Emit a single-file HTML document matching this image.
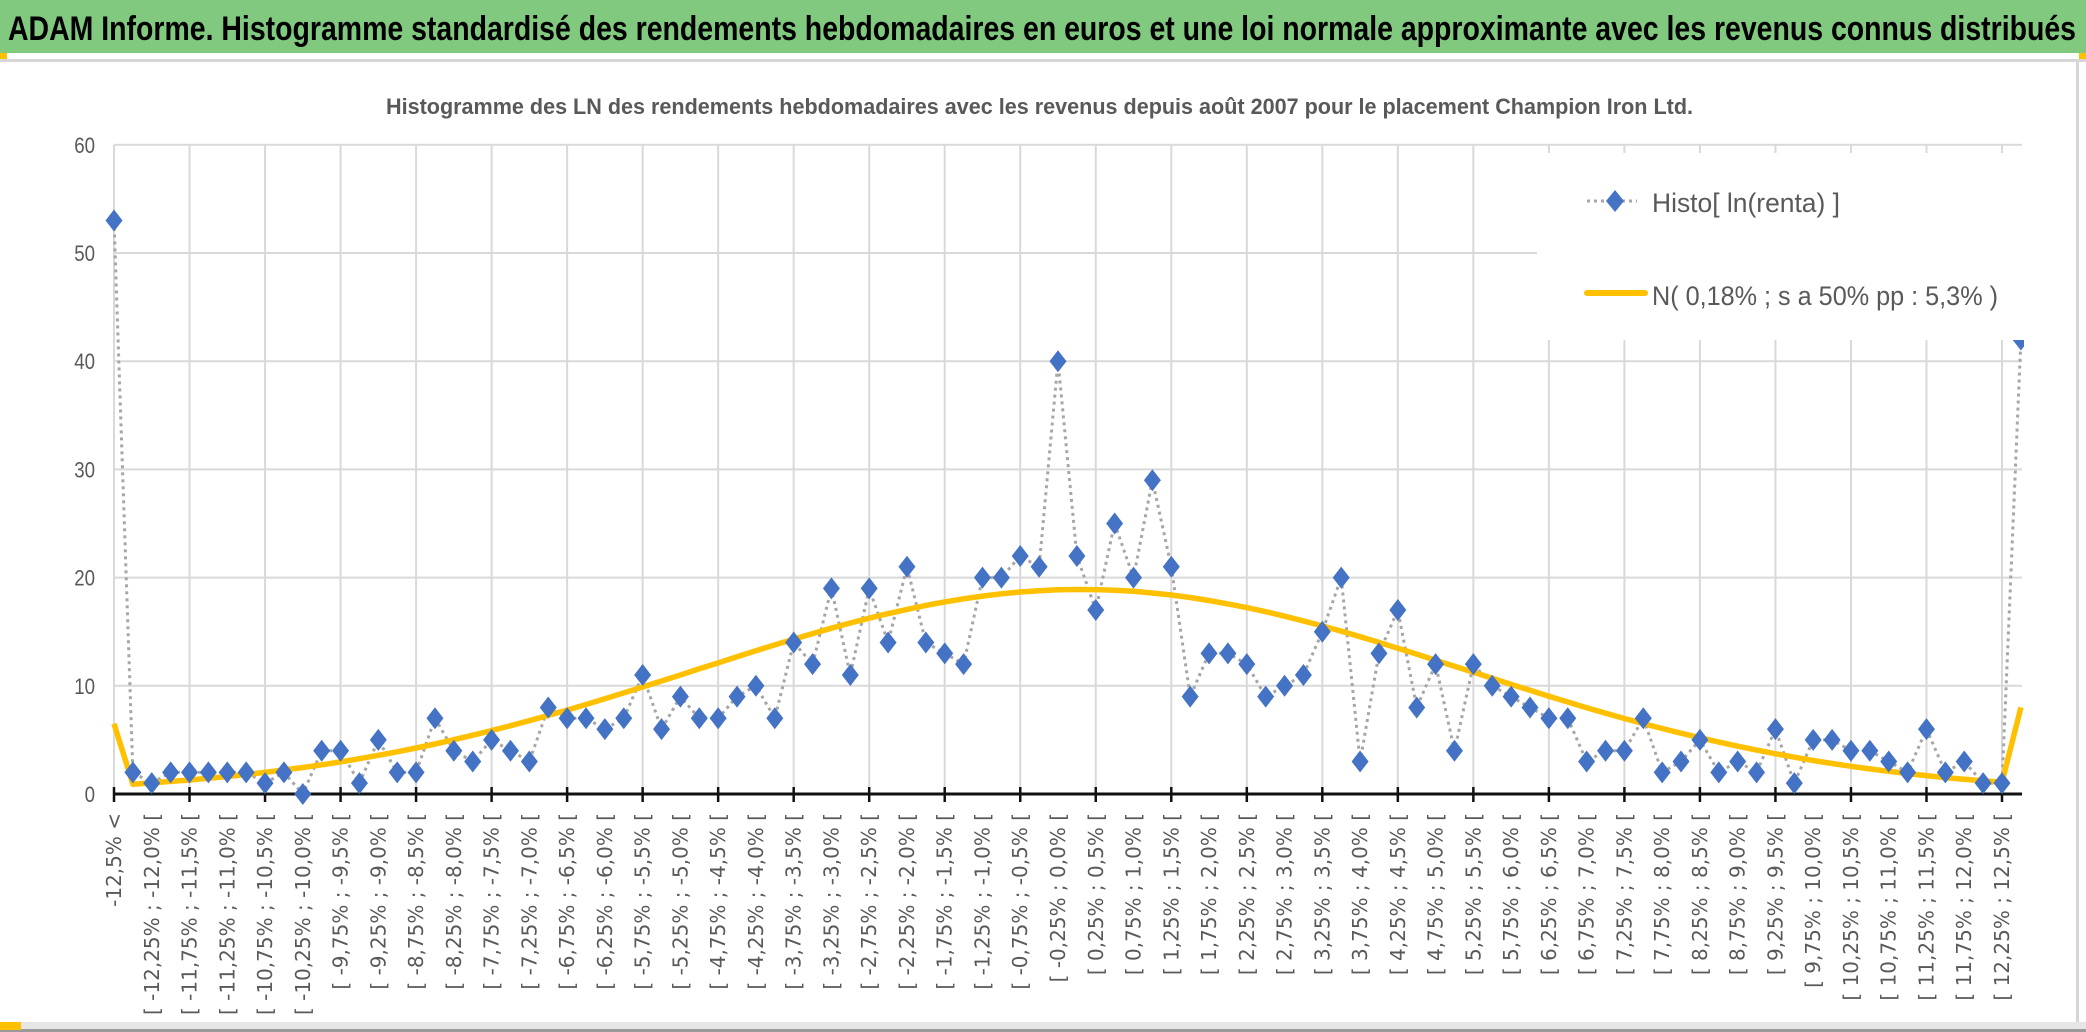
<!DOCTYPE html>
<html><head><meta charset="utf-8"><style>
html,body{margin:0;padding:0;background:#fff;}
svg{display:block;}
</style></head><body>
<svg id="chart" width="2086" height="1032" viewBox="0 0 2086 1032" xmlns="http://www.w3.org/2000/svg">
  <rect x="0" y="0" width="2086" height="1032" fill="#ffffff"/>
  <rect x="0" y="0" width="2086" height="53" fill="#80c97f"/>
  <text x="8" y="40" font-family="Liberation Sans, sans-serif" font-weight="bold" font-size="34" fill="#000" textLength="2068" lengthAdjust="spacingAndGlyphs">ADAM Informe. Histogramme standardisé des rendements hebdomadaires en euros et une loi normale approximante avec les revenus connus distribués</text>
  <rect x="0" y="53" width="7" height="7" fill="#ffc000"/>
  <rect x="2079" y="53" width="7" height="7" fill="#ffc000"/>
  <rect x="0" y="59" width="2086" height="3" fill="#d6d6d6"/>
  <rect x="2076" y="60" width="3" height="965" fill="#d6d6d6"/>
  <rect x="0" y="1022" width="2086" height="10" fill="#e6e6e6"/>
  <rect x="0" y="1029" width="2086" height="3" fill="#9a9a9a"/>
  <rect x="0" y="1022" width="21" height="8" fill="#ffc000"/>
  <text x="386" y="114" font-family="Liberation Sans, sans-serif" font-weight="bold" font-size="22" fill="#595959" textLength="1307" lengthAdjust="spacingAndGlyphs">Histogramme des LN des rendements hebdomadaires avec les revenus depuis août 2007 pour le placement Champion Iron Ltd.</text>
  <g id="grid"></g>
  <g id="yaxis"></g>
  <g id="xaxis"></g>
  <g id="series" clip-path="url(#plotclip)"></g>
  <defs><clipPath id="plotclip"><rect x="60" y="120" width="1964" height="700"/></clipPath></defs>
  <g id="legend">
    <rect x="1537" y="153" width="487" height="187" fill="#ffffff"/>
    <line x1="1587" y1="201" x2="1637" y2="201" stroke="#a6a6a6" stroke-width="3" stroke-dasharray="3 4"/>
    <path d="M1615 190 L1624 201 L1615 212 L1606 201 Z" fill="#4472c4"/>
    <text x="1652" y="212" font-family="Liberation Sans, sans-serif" font-size="27" fill="#595959" textLength="188" lengthAdjust="spacingAndGlyphs">Histo[ ln(renta) ]</text>
    <line x1="1587" y1="293" x2="1645" y2="293" stroke="#ffc000" stroke-width="6" stroke-linecap="round"/>
    <text x="1652" y="305" font-family="Liberation Sans, sans-serif" font-size="27" fill="#595959" textLength="346" lengthAdjust="spacingAndGlyphs">N( 0,18% ; s a 50% pp : 5,3% )</text>
  </g>
</svg>
<script>
const histoValues = [53,2,1,2,2,2,2,2,1,2,0,4,4,1,5,2,2,7,4,3,5,4,3,8,7,7,6,7,11,6,9,7,7,9,10,7,14,12,19,11,19,14,21,14,13,12,20,20,22,21,40,22,17,25,20,29,21,9,13,13,12,9,10,11,15,20,3,13,17,8,12,4,12,10,9,8,7,7,3,4,4,7,2,3,5,2,3,2,6,1,5,5,4,4,3,2,6,2,3,1,1,42];
const normalValues = [6.5,0.91,1.03,1.16,1.29,1.45,1.62,1.8,2.0,2.22,2.45,2.7,2.97,3.26,3.58,3.9,4.25,4.62,5.02,5.43,5.86,6.31,6.77,7.26,7.75,8.27,8.8,9.34,9.89,10.44,11.0,11.57,12.12,12.68,13.24,13.78,14.31,14.82,15.32,15.8,16.25,16.67,17.06,17.43,17.75,18.04,18.29,18.5,18.67,18.79,18.87,18.9,18.89,18.83,18.73,18.58,18.39,18.16,17.88,17.57,17.23,16.85,16.43,16.0,15.54,15.05,14.54,14.01,13.47,12.93,12.37,11.81,11.25,10.69,10.13,9.58,9.04,8.5,7.98,7.47,6.98,6.51,6.05,5.62,5.2,4.8,4.42,4.06,3.72,3.4,3.1,2.82,2.56,2.32,2.1,1.89,1.7,1.52,1.36,1.22,1.08,8];
const yTicks = [0,10,20,30,40,50,60];
const xLabelStarts = [];
for (let k = 1; k <= 50; k++) xLabelStarts.push(-12.75 + 0.5 * k);

const NS = 'http://www.w3.org/2000/svg';
const X0 = 114, DX = 18.88, Y0 = 794, DY = 10.82;
function xPos(i){ return X0 + i * DX; }
function yPos(v){ return Y0 - v * DY; }
function fmt(v){ return v.toFixed(2).replace(/0$/,'').replace('.', ','); }
function mk(tag, attrs, parent){ const e = document.createElementNS(NS, tag); for (const k in attrs) e.setAttribute(k, attrs[k]); parent.appendChild(e); return e; }

const grid = document.getElementById('grid');
const yaxis = document.getElementById('yaxis');
const xaxis = document.getElementById('xaxis');
const series = document.getElementById('series');
const plotRight = 2022;

yTicks.forEach(t => {
  if (t > 0) {
    const l = mk('line', {x1: X0, x2: plotRight, y1: yPos(t), y2: yPos(t), stroke: '#d9d9d9', 'stroke-width': 2}, grid);
    
    
  }
  const tx = mk('text', {x: 95, y: yPos(t) + 8, 'text-anchor': 'end', 'font-family': 'Liberation Sans, sans-serif', 'font-size': 22, fill: '#595959', transform: 'translate(' + (95*0.15) + ' 0) scale(0.85 1)'}, yaxis);
  tx.textContent = t;
  
  
});

for (let i = 0; i <= 100; i += 4) {
  const x = xPos(i);
  const g = mk('line', {x1: x, x2: x, y1: yPos(60), y2: Y0, stroke: '#d9d9d9', 'stroke-width': 2}, grid);
  
  
  const tk = mk('line', {x1: x, x2: x, y1: Y0 - 7, y2: Y0 + 8, stroke: '#111', 'stroke-width': 2.5}, xaxis);
  
  
}
const axis = mk('line', {x1: X0, x2: plotRight, y1: Y0, y2: Y0, stroke: '#111', 'stroke-width': 3}, xaxis);



for (let k = 0; k <= 50; k++) {
  const i = 2 * k;
  const label = k === 0 ? '-12,5% <' : '[ ' + fmt(xLabelStarts[k-1]) + '% ; ' + fmt(xLabelStarts[k-1] + 0.25) + '% [';
  const x = xPos(i) + 7, y = 813;
  const t = mk('text', {x: x, y: y, transform: 'rotate(-90 ' + x + ' ' + y + ')', 'text-anchor': 'end', 'font-family': 'DejaVu Sans, sans-serif', 'font-size': 20, fill: '#595959'}, xaxis);
  t.textContent = label;
  
  
}

const histoPts = histoValues.map((v, i) => xPos(i).toFixed(1) + ',' + yPos(v).toFixed(1)).join(' ');
const hl = mk('polyline', {points: histoPts, fill: 'none', stroke: '#a6a6a6', 'stroke-width': 3, 'stroke-dasharray': '3 4'}, series);



const normPts = normalValues.map((v, i) => xPos(i).toFixed(1) + ',' + yPos(v).toFixed(1)).join(' ');
const nl = mk('polyline', {points: normPts, fill: 'none', stroke: '#ffc000', 'stroke-width': 5.5, 'stroke-linejoin': 'round'}, series);



histoValues.forEach((v, i) => {
  const x = xPos(i), y = yPos(v);
  const d = mk('path', {d: 'M' + x + ' ' + (y - 11) + ' L' + (x + 8.5) + ' ' + y + ' L' + x + ' ' + (y + 11) + ' L' + (x - 8.5) + ' ' + y + ' Z', fill: '#4472c4'}, series);
  
  
});
</script>
</body></html>
